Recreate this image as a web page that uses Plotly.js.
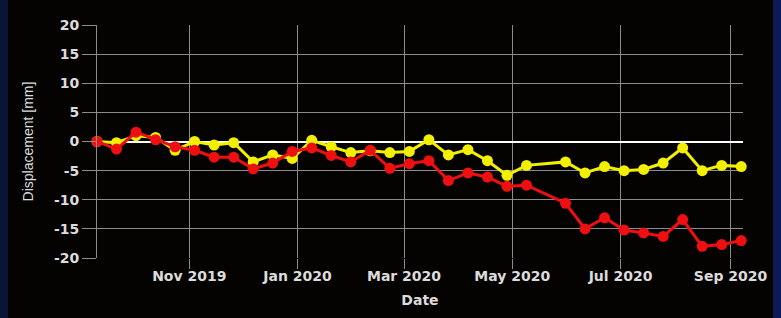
<!DOCTYPE html>
<html>
<head>
<meta charset="utf-8">
<script src="https://cdn.plot.ly/plotly-3.0.1.min.js"></script>
<style>
  html, body { margin:0; padding:0; width:781px; height:318px; overflow:hidden;
    background: linear-gradient(to right, #0a1535 0px, #0a1535 8px, #050202 8px, #050202 773px, #0d1a5a 773px); }
  #chart { position:absolute; left:8px; top:0; width:765px; height:318px; }
</style>
</head>
<body>
<div id="chart"></div>
<script>
const dates = ["2019-09-10","2019-09-21","2019-10-02","2019-10-13","2019-10-24","2019-11-04","2019-11-15","2019-11-26",
  "2019-12-07","2019-12-18","2019-12-29","2020-01-09","2020-01-20","2020-01-31","2020-02-11","2020-02-22",
  "2020-03-04","2020-03-15","2020-03-26","2020-04-06","2020-04-17","2020-04-28","2020-05-09",
  "2020-05-31","2020-06-11","2020-06-22","2020-07-03","2020-07-14","2020-07-25","2020-08-05","2020-08-16","2020-08-27","2020-09-07"];
const yellowVals = [0, -0.2, 1.0, 0.7, -1.5, 0, -0.6, -0.2, -3.5, -2.3, -2.9, 0.2, -0.9, -1.9, -1.6, -1.9,
  -1.7, 0.3, -2.3, -1.4, -3.3, -5.8, -4.1, -3.5, -5.4, -4.3, -5.0, -4.8, -3.7, -1.1, -5.0, -4.1, -4.3];
const redVals = [0, -1.3, 1.6, 0.3, -0.9, -1.5, -2.7, -2.7, -4.7, -3.7, -1.7, -1.1, -2.4, -3.5, -1.5, -4.6,
  -3.8, -3.3, -6.7, -5.4, -6.1, -7.7, -7.5, -10.6, -15.0, -13.1, -15.2, -15.7, -16.3, -13.4, -18.0, -17.7, -17.0];
const xTickVals = ["2019-11-01","2020-01-01","2020-03-01","2020-05-01","2020-07-01","2020-09-01"];
const xTickText = ["Nov 2019","Jan 2020","Mar 2020","May 2020","Jul 2020","Sep 2020"];
const yTickVals = [20, 15, 10, 5, 0, -5, -10, -15, -20];
const yTickText = ["20","15","10","5","0","-5","-10","-15","-20"];

const tickFont = {family: "DejaVu Sans", size: 14, color: "#dcdcdc", weight: "bold"};
const traces = [
  {x: dates, y: yellowVals, type: "scatter", mode: "lines+markers", cliponaxis: false,
   line: {color: "#f2f000", width: 3}, marker: {color: "#f2f000", size: 11}, hoverinfo: "skip"},
  {x: dates, y: redVals, type: "scatter", mode: "lines+markers", cliponaxis: false,
   line: {color: "#ee1010", width: 3}, marker: {color: "#ee1010", size: 11}, hoverinfo: "skip"}
];
const layout = {
  width: 765, height: 318,
  margin: {l: 89, r: 30, t: 25, b: 60},
  paper_bgcolor: "rgba(0,0,0,0)", plot_bgcolor: "rgba(0,0,0,0)",
  showlegend: false,
  xaxis: {
    type: "date", range: ["2019-09-10", "2020-09-08"],
    tickvals: xTickVals, ticktext: xTickText,
    showgrid: true, gridcolor: "#8c8c8c", gridwidth: 1,
    ticks: "outside", ticklen: 10, tickcolor: "#8c8c8c", tickwidth: 1,
    ticklabelstandoff: -5,
    showline: false, zeroline: false,
    tickfont: tickFont,
    title: {text: "Date", font: {family: "DejaVu Sans", size: 14, color: "#dcdcdc", weight: "bold"}, standoff: 12}
  },
  yaxis: {
    range: [-20, 20], tickvals: yTickVals, ticktext: yTickText,
    showgrid: true, gridcolor: "#8c8c8c", gridwidth: 1,
    ticks: "outside", ticklen: 14, tickcolor: "#8c8c8c", tickwidth: 1,
    showline: true, linecolor: "#8c8c8c", linewidth: 1,
    zeroline: true, zerolinecolor: "#ffffff", zerolinewidth: 2,
    tickfont: tickFont,
    title: {text: "Displacement [mm]", font: {family: "Liberation Sans", size: 14, color: "#dcdcdc"}, standoff: 17}
  }
};
Plotly.newPlot("chart", traces, layout, {staticPlot: true, displayModeBar: false});
</script>
</body>
</html>
